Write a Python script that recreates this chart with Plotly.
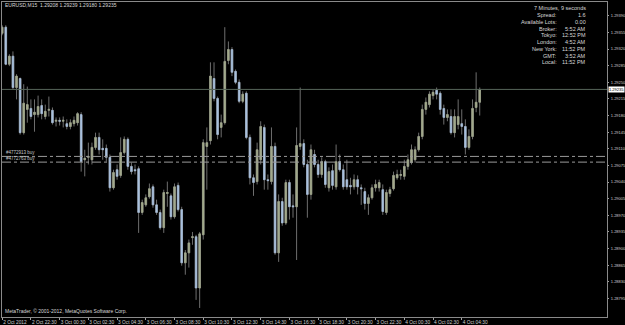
import plotly.graph_objects as go
import numpy as np

symbol_header = "EURUSD,M15  1.29208 1.29239 1.29180 1.29235"

opens = [1.29353,1.29366,1.29288,1.29305,1.29239,1.29258,1.29144,1.29193,1.29195,1.29182,
1.29182,1.29201,1.29178,1.29191,1.29191,1.29168,1.29170,1.29168,1.29163,1.29157,
1.29163,1.29165,1.29182,1.29087,1.29092,1.29087,1.29113,1.29134,1.29111,1.29111,
1.29092,1.29028,1.29066,1.29054,1.29102,1.29130,1.29073,1.29066,1.29068,1.28976,
1.28992,1.29009,1.29030,1.28992,1.28976,1.28944,1.29016,1.29011,1.28967,1.29033,
1.28982,1.28870,1.28891,1.28923,1.28925,1.28817,1.28929,1.29115,1.29127,1.29258,
1.29216,1.29155,1.29165,1.29296,1.29319,1.29273,1.29250,1.29210,1.29227,1.29134,
1.29049,1.29041,1.29087,1.29155,1.29045,1.29041,1.29115,1.28891,1.28999,1.28954,
1.29039,1.28990,1.28988,1.29115,1.29121,1.29077,1.29014,1.29098,1.29077,1.29056,
1.29083,1.29028,1.29064,1.29030,1.29083,1.29066,1.29045,1.29033,1.29030,1.29045,
1.29028,1.29020,1.28995,1.29007,1.29028,1.29028,1.29024,1.28976,1.29016,1.29026,
1.29049,1.29054,1.29052,1.29073,1.29081,1.29087,1.29108,1.29136,1.29193,1.29203,
1.29222,1.29233,1.29227,1.29195,1.29176,1.29178,1.29144,1.29161,1.29163,1.29157,
1.29113,1.29136,1.29197,1.29208]

highs = [1.29370,1.29370,1.29309,1.29315,1.29267,1.29260,1.29246,1.29241,1.29214,1.29214,
1.29222,1.29214,1.29203,1.29220,1.29197,1.29176,1.29176,1.29178,1.29172,1.29172,
1.29178,1.29187,1.29187,1.29108,1.29123,1.29123,1.29144,1.29144,1.29130,1.29119,
1.29098,1.29066,1.29077,1.29134,1.29136,1.29134,1.29081,1.29077,1.29073,1.29003,
1.29014,1.29037,1.29035,1.29003,1.28982,1.29024,1.29041,1.29016,1.29037,1.29039,
1.28988,1.28897,1.28919,1.28935,1.28929,1.28935,1.29130,1.29155,1.29292,1.29292,
1.29220,1.29182,1.29366,1.29336,1.29324,1.29277,1.29256,1.29231,1.29231,1.29140,
1.29056,1.29123,1.29168,1.29161,1.29056,1.29155,1.29123,1.29014,1.29007,1.29045,
1.29045,1.29014,1.29155,1.29239,1.29130,1.29087,1.29119,1.29108,1.29087,1.29092,
1.29087,1.29071,1.29077,1.29119,1.29098,1.29077,1.29087,1.29049,1.29056,1.29054,
1.29035,1.29028,1.29014,1.29035,1.29045,1.29045,1.29035,1.29024,1.29030,1.29062,
1.29066,1.29066,1.29087,1.29098,1.29119,1.29115,1.29144,1.29203,1.29218,1.29231,
1.29235,1.29239,1.29231,1.29203,1.29193,1.29193,1.29193,1.29214,1.29193,1.29172,
1.29151,1.29214,1.29271,1.29239]

lows = [1.29349,1.29286,1.29284,1.29235,1.29214,1.29140,1.29140,1.29165,1.29172,1.29146,
1.29176,1.29172,1.29172,1.29178,1.29161,1.29157,1.29159,1.29155,1.29151,1.29151,
1.29157,1.29159,1.29062,1.29052,1.29077,1.29077,1.29108,1.29098,1.29087,1.29083,
1.29020,1.29024,1.29045,1.29049,1.29098,1.29066,1.29056,1.29056,1.28933,1.28971,
1.28988,1.29005,1.28986,1.28971,1.28940,1.28933,1.28988,1.28961,1.28963,1.28978,
1.28864,1.28845,1.28860,1.28908,1.28792,1.28775,1.28919,1.29024,1.29119,1.29210,
1.29130,1.29134,1.29161,1.29288,1.29263,1.29246,1.29206,1.29206,1.29130,1.29035,
1.29011,1.29035,1.29077,1.29024,1.29024,1.29035,1.28887,1.28872,1.28948,1.28950,
1.28961,1.28965,1.28876,1.29108,1.29071,1.28965,1.29003,1.29071,1.29049,1.29049,
1.29028,1.29020,1.29024,1.29024,1.29062,1.29024,1.29024,1.29014,1.29024,1.29014,
1.28992,1.28982,1.28971,1.29003,1.29020,1.29020,1.28971,1.28971,1.29009,1.29022,
1.29045,1.29045,1.29045,1.29066,1.29077,1.29081,1.29104,1.29130,1.29182,1.29197,
1.29214,1.29214,1.29182,1.29161,1.29168,1.29140,1.29134,1.29151,1.29140,1.29098,
1.29108,1.29130,1.29187,1.29180]

closes = [1.29366,1.29288,1.29305,1.29239,1.29263,1.29144,1.29206,1.29203,1.29178,1.29187,
1.29199,1.29184,1.29189,1.29193,1.29165,1.29170,1.29168,1.29170,1.29157,1.29165,
1.29170,1.29184,1.29083,1.29090,1.29094,1.29113,1.29134,1.29108,1.29108,1.29092,
1.29028,1.29060,1.29052,1.29102,1.29130,1.29073,1.29062,1.29064,1.28976,1.28997,
1.29007,1.29026,1.28992,1.28976,1.28944,1.29018,1.29018,1.28967,1.29030,1.28982,
1.28870,1.28891,1.28912,1.28925,1.28817,1.28931,1.29123,1.29123,1.29263,1.29216,
1.29140,1.29165,1.29294,1.29319,1.29271,1.29250,1.29210,1.29225,1.29134,1.29049,
1.29039,1.29108,1.29157,1.29045,1.29043,1.29115,1.28891,1.28999,1.28954,1.29039,
1.28988,1.28988,1.29117,1.29121,1.29077,1.29014,1.29108,1.29077,1.29056,1.29083,
1.29035,1.29062,1.29033,1.29083,1.29066,1.29030,1.29030,1.29030,1.29045,1.29030,
1.29026,1.28995,1.29007,1.29028,1.29035,1.29039,1.28978,1.29018,1.29024,1.29054,
1.29056,1.29056,1.29073,1.29087,1.29108,1.29108,1.29136,1.29193,1.29208,1.29225,
1.29229,1.29225,1.29193,1.29176,1.29182,1.29144,1.29178,1.29178,1.29157,1.29113,
1.29136,1.29195,1.29208,1.29235]

bid_price = 1.29235
order_prices = [1.29094, 1.29082]
order_labels = ["#4772913 buy", "#4772763 buy"]

price_ticks = ["1.28795","1.28830","1.28865","1.28900","1.28935","1.28970","1.29005",
               "1.29040","1.29075","1.29110","1.29145","1.29180","1.29215","1.29250",
               "1.29285","1.29320","1.29355","1.29390"]
time_tick_bars = [0, 8, 16, 24, 32, 40, 48, 56, 64, 72, 80, 88, 96, 104, 112, 120, 128]
time_tick_text = ["2 Oct 2012","2 Oct 22:30","3 Oct 00:30","3 Oct 02:30","3 Oct 04:30",
                  "3 Oct 06:30","3 Oct 08:30","3 Oct 10:30","3 Oct 12:30","3 Oct 14:30",
                  "3 Oct 16:30","3 Oct 18:30","3 Oct 20:30","3 Oct 22:30","4 Oct 00:30",
                  "4 Oct 02:30","4 Oct 04:30"]

info_labels = ["Spread:", "Available Lots:", "Broker:", "Tokyo:", "London:",
               "New York:", "GMT:", "Local:"]
info_values = ["1.6", "0.00", "5:52 AM", "12:52 PM", "4:52 AM", "11:52 PM",
               "3:52 AM", "11:52 PM"]
timer_text = "7 Minutes, 9 seconds"
copyright_text = "MetaTrader, © 2001-2012, MetaQuotes Software Corp."

BULL = "#a3aa8c"
BEAR = "#a9c1de"
WICK = "#6e6e6e"
FONT = "Liberation Sans"

W, H = 625, 325
ML, MR, MT, MB = 2, 18, 2, 8
PW, PH = W - ML - MR, H - MT - MB

x = np.arange(len(opens))
o = np.array(opens); c = np.array(closes)
body_hi = np.maximum(o, c); body_lo = np.minimum(o, c)

fig = go.Figure()
# wicks
fig.add_trace(go.Candlestick(
    x=x, open=opens, high=highs, low=lows, close=closes,
    increasing=dict(line=dict(color=WICK, width=1), fillcolor=WICK),
    decreasing=dict(line=dict(color=WICK, width=1), fillcolor=WICK),
    hoverinfo="skip", showlegend=False))
# bodies
fig.add_trace(go.Candlestick(
    x=x, open=opens, high=body_hi, low=body_lo, close=closes,
    increasing=dict(line=dict(color=BULL, width=0.5), fillcolor=BULL),
    decreasing=dict(line=dict(color=BEAR, width=0.5), fillcolor=BEAR),
    hoverinfo="skip", showlegend=False))

# bid line
fig.add_hline(y=bid_price, line=dict(color="#56665a", width=1))
for p, lab in zip(order_prices, order_labels):
    fig.add_hline(y=p, line=dict(color="#9a9a9a", width=1, dash="dashdot"))
    fig.add_annotation(x=0.003, xref="paper", y=p, yref="y", text=lab, showarrow=False,
                       xanchor="left", yanchor="bottom", yshift=-1,
                       font=dict(family=FONT, size=4.5, color="#c8c8c8"))

# current price box
fig.add_annotation(x=1.0, xref="paper", y=bid_price, yref="y", text=str(bid_price),
                   showarrow=False, xanchor="left", yanchor="middle", xshift=1,
                   bgcolor="#ffffff", borderpad=0,
                   font=dict(family=FONT, size=4.0, color="#000000"))

def px2paper(px, py):
    return (px - ML) / PW, 1 - (py - MT) / PH

# header
hx, hy = px2paper(3, 5)
fig.add_annotation(x=hx, y=hy, xref="paper", yref="paper", text=symbol_header,
                   showarrow=False, xanchor="left", yanchor="middle",
                   font=dict(family=FONT, size=5, color="#d8d8d8"))
# timer
tx, ty = px2paper(588, 8.3)
fig.add_annotation(x=tx, y=ty, xref="paper", yref="paper", text=timer_text,
                   showarrow=False, xanchor="right", yanchor="middle",
                   font=dict(family=FONT, size=5.5, color="#d8d8d8"))
for k, (lab, val) in enumerate(zip(info_labels, info_values)):
    py = 15.3 + k * 6.7
    lx, ly = px2paper(559, py)
    vx, vy = px2paper(588, py)
    fig.add_annotation(x=lx, y=ly, xref="paper", yref="paper", text=lab, showarrow=False,
                       xanchor="right", yanchor="middle",
                       font=dict(family=FONT, size=5.5, color="#d8d8d8"))
    fig.add_annotation(x=vx, y=vy, xref="paper", yref="paper", text=val, showarrow=False,
                       xanchor="right", yanchor="middle",
                       font=dict(family=FONT, size=5.5, color="#d8d8d8"))
# copyright
cx, cy = px2paper(3, 311)
fig.add_annotation(x=cx, y=cy, xref="paper", yref="paper", text=copyright_text,
                   showarrow=False, xanchor="left", yanchor="middle",
                   font=dict(family=FONT, size=5, color="#d8d8d8"))

fig.update_layout(
    width=W, height=H,
    margin=dict(l=ML, r=MR, t=MT, b=MB, pad=0, autoexpand=False),
    paper_bgcolor="#000000", plot_bgcolor="#000000",
    boxgap=0.35,
    showlegend=False,
    xaxis=dict(range=[-0.05, 168.45], showgrid=False, zeroline=False, automargin=False,
               rangeslider=dict(visible=False),
               tickmode="array", tickvals=time_tick_bars, ticktext=time_tick_text,
               tickangle=0,
               ticks="outside", ticklen=2, tickcolor="#a0a0a0",
               ticklabelposition="outside right",
               tickfont=dict(family=FONT, size=4.8, color="#d0d0d0"),
               showline=True, linecolor="#8a8a8a", linewidth=1, mirror=True),
    yaxis=dict(range=[1.28756, 1.29419], side="right", showgrid=False, zeroline=False,
               automargin=False,
               tickmode="array", tickvals=[float(t) for t in price_ticks], ticktext=price_ticks,
               ticks="outside", ticklen=1, tickcolor="#a0a0a0",
               ticklabelstandoff=1,
               tickfont=dict(family=FONT, size=4.0, color="#d0d0d0"),
               showline=True, linecolor="#8a8a8a", linewidth=1, mirror=True),
)

fig.write_html("out.html", config=dict(displayModeBar=False, staticPlot=True))
